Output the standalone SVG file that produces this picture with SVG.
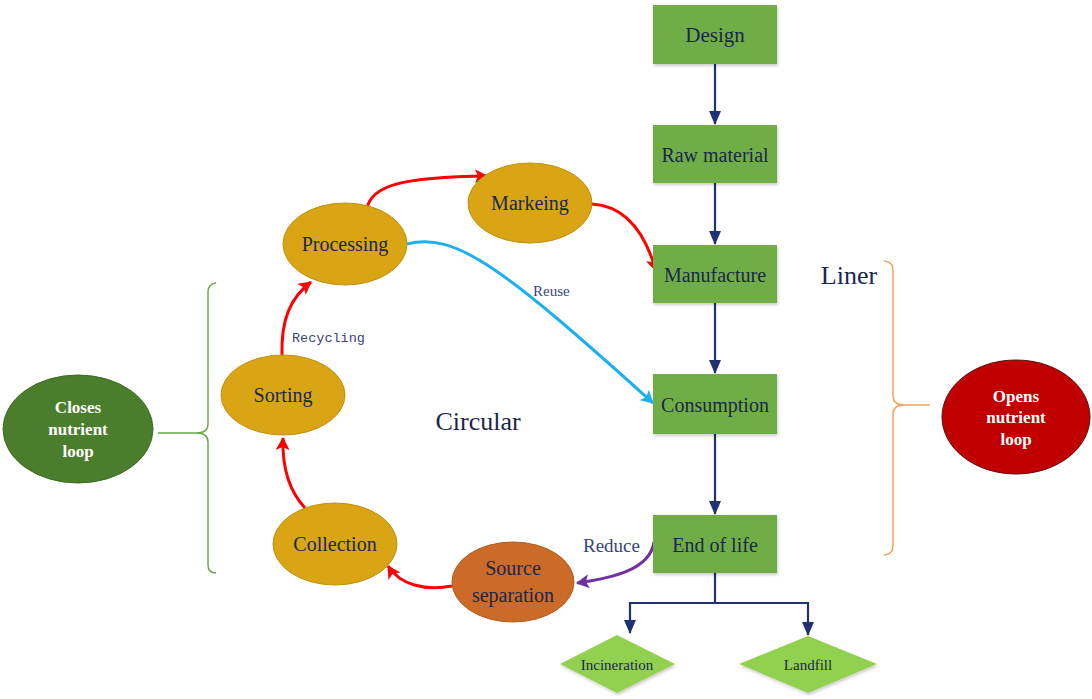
<svg xmlns="http://www.w3.org/2000/svg" width="1092" height="699" viewBox="0 0 1092 699">
<defs>
<style>
.box{fill:#70ad47;}
.dia{fill:#92d050;}
.ell{fill:#d9a514;stroke:#c1900e;stroke-width:1;}
.t{font-family:"Liberation Serif","Times New Roman",serif;fill:#1a274d;text-anchor:middle;}
.nav{fill:none;stroke:#1f3170;stroke-width:2.2;}
.red{fill:none;stroke:#ff0000;stroke-width:3;}
.lbl{font-family:"Liberation Serif","Times New Roman",serif;fill:#36457f;}
.wb{font-family:"Liberation Serif","Times New Roman",serif;font-weight:bold;fill:#ffffff;text-anchor:middle;font-size:17px;}
</style>
<filter id="sh" x="-10%" y="-10%" width="125%" height="130%">
<feDropShadow dx="1" dy="2" stdDeviation="1.5" flood-color="#000" flood-opacity="0.2"/>
</filter>
<marker id="mn" markerWidth="14" markerHeight="12" refX="13" refY="6" orient="auto" markerUnits="userSpaceOnUse">
<path d="M0,0 L14,6 L0,12 Z" fill="#1f3170"/>
</marker>
<marker id="mr" markerWidth="14" markerHeight="14" refX="12" refY="7" orient="auto" markerUnits="userSpaceOnUse">
<path d="M0,0 L13,7 L0,14 L3,7 Z" fill="#ff0000"/>
</marker>
<marker id="mb" markerWidth="14" markerHeight="14" refX="12" refY="7" orient="auto" markerUnits="userSpaceOnUse">
<path d="M0,0 L13,7 L0,14 L3,7 Z" fill="#1cb0ee"/>
</marker>
<marker id="mp" markerWidth="14" markerHeight="14" refX="12" refY="7" orient="auto" markerUnits="userSpaceOnUse">
<path d="M0,0 L13,7 L0,14 L3,7 Z" fill="#7030a0"/>
</marker>
</defs>
<rect width="1092" height="699" fill="#ffffff"/>

<g id="connectors">
<path class="nav" d="M715 64 V124" marker-end="url(#mn)"/>
<path class="nav" d="M715 183 V244" marker-end="url(#mn)"/>
<path class="nav" d="M715 303 V373" marker-end="url(#mn)"/>
<path class="nav" d="M715 434 V514" marker-end="url(#mn)"/>
<path class="nav" d="M715 573 V603 H630 V633" marker-end="url(#mn)"/>
<path class="nav" d="M715 603 H808 V635" marker-end="url(#mn)"/>
<path class="red" d="M305 508 C 290 492, 282 470, 283 438" marker-end="url(#mr)"/>
<path class="red" d="M282 355 C 281 320, 290 298, 311 282" marker-end="url(#mr)"/>
<path class="red" d="M367 208 C 372 186, 400 177, 487 176" marker-end="url(#mr)"/>
<path class="red" d="M592 204 C 625 206, 645 232, 656 271" marker-end="url(#mr)"/>
<path class="red" d="M452 586 C 425 591, 400 585, 388 566" marker-end="url(#mr)"/>
<path fill="none" stroke="#7030a0" stroke-width="3" d="M654 542 C 650 570, 612 578, 577 583" marker-end="url(#mp)"/>
<path fill="none" stroke="#1cb0ee" stroke-width="3" d="M407 244 C 455 232, 500 265, 653 403" marker-end="url(#mb)"/>
<path fill="none" stroke="#6aab4a" stroke-width="1.5" d="M216 283 Q208 284 208 292 V424 Q208 433 196 433 Q208 433 208 442 V565 Q208 573 216 573 M196 433 H158"/>
<path fill="none" stroke="#f4a460" stroke-width="1.5" d="M884 261 Q893 262 893 270 V396 Q893 405 905 405 Q893 405 893 414 V546 Q893 554 884 555 M905 405 H930"/>
<text class="lbl" x="292" y="342" style="font-family:'Liberation Mono','Courier New',monospace" font-size="13.5">Recycling</text>
<text class="lbl" x="533" y="296" font-size="15">Reuse</text>
<text class="lbl" x="583" y="552" font-size="19">Reduce</text>
</g>

<g id="design"><rect class="box" x="653" y="5" width="124" height="59" filter="url(#sh)"/><text class="t" x="715" y="42" font-size="21">Design</text></g>
<g id="raw-material"><rect class="box" x="653" y="125" width="124" height="58" filter="url(#sh)"/><text class="t" x="715" y="162" font-size="20">Raw material</text></g>
<g id="manufacture"><rect class="box" x="653" y="245" width="124" height="58" filter="url(#sh)"/><text class="t" x="715" y="282" font-size="20">Manufacture</text></g>
<g id="consumption"><rect class="box" x="653" y="374" width="124" height="60" filter="url(#sh)"/><text class="t" x="715" y="412" font-size="20">Consumption</text></g>
<g id="end-of-life"><rect class="box" x="653" y="515" width="124" height="58" filter="url(#sh)"/><text class="t" x="715" y="552" font-size="20">End of life</text></g>
<g id="incineration"><polygon class="dia" points="560,664 617,635 675,664 617,693" filter="url(#sh)"/><text class="t" x="617" y="670" font-size="15">Incineration</text></g>
<g id="landfill"><polygon class="dia" points="739,664 808,636 877,664 808,693" filter="url(#sh)"/><text class="t" x="808" y="670" font-size="15">Landfill</text></g>

<g id="processing"><ellipse class="ell" cx="345" cy="244" rx="62" ry="41"/><text class="t" x="345" y="251" font-size="20">Processing</text></g>
<g id="markeing"><ellipse class="ell" cx="530" cy="203" rx="62" ry="40"/><text class="t" x="530" y="210" font-size="20">Markeing</text></g>
<g id="sorting"><ellipse class="ell" cx="283" cy="395" rx="62" ry="40"/><text class="t" x="283" y="402" font-size="20">Sorting</text></g>
<g id="collection"><ellipse class="ell" cx="335" cy="544" rx="62" ry="41"/><text class="t" x="335" y="551" font-size="20">Collection</text></g>
<g id="source-separation"><ellipse cx="513" cy="582" rx="61" ry="40" fill="#cc6a28" stroke="#b35a1f"/><text class="t" x="513" y="575" font-size="20">Source</text><text class="t" x="513" y="602" font-size="20">separation</text></g>

<g id="closes-nutrient-loop"><ellipse cx="78" cy="429" rx="75" ry="54" fill="#4a7e2c" stroke="#3c6a22"/><text class="wb" x="78" y="413">Closes</text><text class="wb" x="78" y="435">nutrient</text><text class="wb" x="78" y="457">loop</text></g>
<g id="opens-nutrient-loop"><ellipse cx="1016" cy="417" rx="74" ry="57" fill="#c00000" stroke="#5a1010"/><text class="wb" x="1016" y="402">Opens</text><text class="wb" x="1016" y="423">nutrient</text><text class="wb" x="1016" y="445">loop</text></g>

<g id="circular-label"><text class="t" x="478" y="430" font-size="26">Circular</text></g>
<g id="liner-label"><text class="t" x="849" y="284" font-size="26">Liner</text></g>
</svg>
